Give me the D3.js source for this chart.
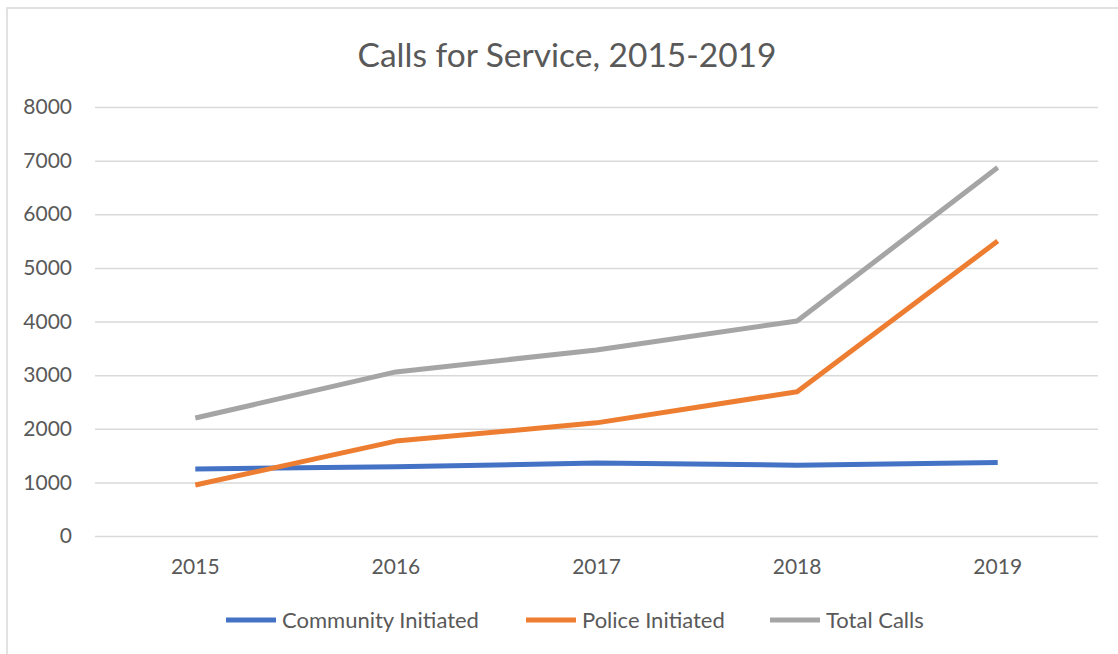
<!DOCTYPE html>
<html>
<head>
<meta charset="utf-8">
<script src="https://cdn.jsdelivr.net/npm/d3@7"></script>
<style>
  html, body { margin: 0; padding: 0; background: #fff; }
  svg { display: block; }
  text { font-family: Lato, "Open Sans", sans-serif; fill: #595959; }
</style>
</head>
<body>
<svg id="chart" width="1118" height="654"></svg>
<script>
// Calls for service by year
const years = ["2015", "2016", "2017", "2018", "2019"];
const communityInitiated = [1250, 1290, 1360, 1320, 1370];
const policeInitiated = [950, 1770, 2110, 2690, 5500];
const totalCalls = [2200, 3060, 3470, 4010, 6870];
const yTicks = [0, 1000, 2000, 3000, 4000, 5000, 6000, 7000, 8000];
const seriesNames = ["Community Initiated", "Police Initiated", "Total Calls"];
const seriesColors = ["#4472C4", "#ED7D31", "#A5A5A5"];

const series = [communityInitiated, policeInitiated, totalCalls].map((values, i) => ({
  name: seriesNames[i],
  color: seriesColors[i],
  values
}));

const svg = d3.select("#chart");
const W = 1118, H = 654;

// chart frame
svg.append("rect")
  .attr("x", 7).attr("y", 8)
  .attr("width", W + 10).attr("height", H + 10)
  .attr("fill", "#fff")
  .attr("stroke", "#d9d9d9")
  .attr("stroke-width", 1.5);

const plot = { left: 95, right: 1098, top: 107, bottom: 536 };

const x = d3.scaleBand().domain(years).range([plot.left, plot.right]);
const y = d3.scaleLinear().domain([0, 8000]).range([plot.bottom, plot.top]);

// title
svg.append("text")
  .attr("x", 567).attr("y", 67)
  .attr("text-anchor", "middle")
  .style("font-size", "33.5px")
  .text("Calls for Service, 2015-2019");

// gridlines + y labels
const yAxis = svg.append("g")
  .attr("transform", `translate(${plot.left},0)`)
  .call(d3.axisLeft(y).tickValues(yTicks).tickSize(-(plot.right - plot.left)).tickPadding(23).tickFormat(d3.format("d")));
yAxis.select(".domain").remove();
yAxis.selectAll(".tick line").attr("stroke", "#d9d9d9").attr("stroke-width", 1.5);
yAxis.selectAll(".tick text")
  .style("font-size", "21px")
  .attr("fill", "#595959")
  .style("font-family", "Lato, 'Open Sans', sans-serif");

// x labels
const xAxis = svg.append("g")
  .attr("transform", `translate(0,${plot.bottom})`)
  .call(d3.axisBottom(x).tickSize(0).tickPadding(23));
xAxis.select(".domain").remove();
xAxis.selectAll(".tick text")
  .style("font-size", "21px")
  .attr("fill", "#595959")
  .style("font-family", "Lato, 'Open Sans', sans-serif");

// series lines
const line = d3.line()
  .x((d, i) => x(years[i]) + x.bandwidth() / 2)
  .y(d => y(d));

svg.append("g")
  .selectAll("path")
  .data(series)
  .join("path")
  .attr("d", d => line(d.values))
  .attr("fill", "none")
  .attr("stroke", d => d.color)
  .attr("stroke-width", 5)
  .attr("stroke-linejoin", "round");

// legend
const legendX = [226, 526, 770];
const legend = svg.append("g")
  .selectAll("g")
  .data(series)
  .join("g")
  .attr("transform", (d, i) => `translate(${legendX[i]},620)`);
legend.append("line")
  .attr("x1", 0).attr("x2", 50)
  .attr("stroke", d => d.color)
  .attr("stroke-width", 5);
legend.append("text")
  .attr("x", 56).attr("y", 8)
  .style("font-size", "22px")
  .text(d => d.name);
</script>
</body>
</html>
